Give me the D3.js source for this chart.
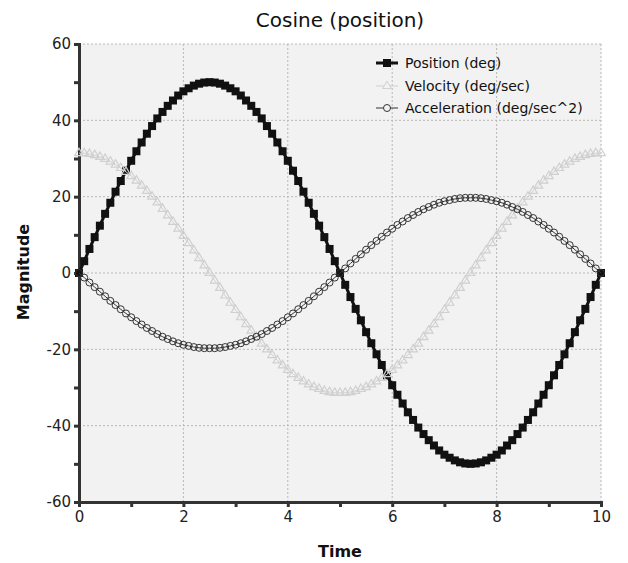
<!DOCTYPE html>
<html><head><meta charset="utf-8">
<script src="https://cdn.jsdelivr.net/npm/d3@7"></script>
<style>body{margin:0;background:#fff;} svg{display:block;font-family:"DejaVu Sans",sans-serif;}</style>
</head><body><svg id="c" width="628" height="563"></svg>
<script>
const time = d3.range(0, 101).map(i => +(i / 10).toFixed(1));
const position = [0,3.1,6.3,9.4,12.4,15.5,18.4,21.3,24.1,26.8,29.4,31.9,34.2,36.5,38.5,40.5,42.2,43.8,45.2,46.5,47.6,48.4,49.1,49.6,49.9,50,
49.9,49.6,49.1,48.4,47.6,46.5,45.2,43.8,42.2,40.5,38.5,36.5,34.2,31.9,29.4,26.8,24.1,21.3,18.4,15.5,12.4,9.4,6.3,3.1,0,
-3.1,-6.3,-9.4,-12.4,-15.5,-18.4,-21.3,-24.1,-26.8,-29.4,-31.9,-34.2,-36.5,-38.5,-40.5,-42.2,-43.8,-45.2,-46.5,-47.6,-48.4,-49.1,-49.6,-49.9,-50,
-49.9,-49.6,-49.1,-48.4,-47.6,-46.5,-45.2,-43.8,-42.2,-40.5,-38.5,-36.5,-34.2,-31.9,-29.4,-26.8,-24.1,-21.3,-18.4,-15.5,-12.4,-9.4,-6.3,-3.1,0];
const velocity = [31.4,31.4,31.2,30.9,30.4,29.9,29.2,28.4,27.5,26.5,25.4,24.2,22.9,21.5,20.0,18.5,16.8,15.1,13.4,11.6,9.7,7.8,5.9,3.9,2.0,0,
-2.0,-3.9,-5.9,-7.8,-9.7,-11.6,-13.4,-15.1,-16.8,-18.5,-20.0,-21.5,-22.9,-24.2,-25.4,-26.5,-27.5,-28.4,-29.2,-29.9,-30.4,-30.9,-31.2,-31.4,-31.4,
-31.4,-31.2,-30.9,-30.4,-29.9,-29.2,-28.4,-27.5,-26.5,-25.4,-24.2,-22.9,-21.5,-20.0,-18.5,-16.8,-15.1,-13.4,-11.6,-9.7,-7.8,-5.9,-3.9,-2.0,0,
2.0,3.9,5.9,7.8,9.7,11.6,13.4,15.1,16.8,18.5,20.0,21.5,22.9,24.2,25.4,26.5,27.5,28.4,29.2,29.9,30.4,30.9,31.2,31.4,31.4];
const acceleration = [0,-1.2,-2.5,-3.7,-4.9,-6.1,-7.3,-8.4,-9.5,-10.6,-11.6,-12.6,-13.5,-14.4,-15.2,-16.0,-16.7,-17.3,-17.9,-18.4,-18.8,-19.1,-19.4,-19.6,-19.7,-19.7,
-19.7,-19.6,-19.4,-19.1,-18.8,-18.4,-17.9,-17.3,-16.7,-16.0,-15.2,-14.4,-13.5,-12.6,-11.6,-10.6,-9.5,-8.4,-7.3,-6.1,-4.9,-3.7,-2.5,-1.2,0,
1.2,2.5,3.7,4.9,6.1,7.3,8.4,9.5,10.6,11.6,12.6,13.5,14.4,15.2,16.0,16.7,17.3,17.9,18.4,18.8,19.1,19.4,19.6,19.7,19.7,
19.7,19.6,19.4,19.1,18.8,18.4,17.9,17.3,16.7,16.0,15.2,14.4,13.5,12.6,11.6,10.6,9.5,8.4,7.3,6.1,4.9,3.7,2.5,1.2,0];
const seriesNames = ["Position (deg)", "Velocity (deg/sec)", "Acceleration (deg/sec^2)"];
const xTicks = [0,2,4,6,8,10];
const yTicks = [-60,-40,-20,0,20,40,60];
const xMinor = [1,3,5,7,9];
const yMinor = [-50,-30,-10,10,30,50];

const svg = d3.select("#c");
const L = 79, R = 601, T = 44, B = 502;
const x = d3.scaleLinear().domain([0,10]).range([L,R]);
const y = d3.scaleLinear().domain([-60,60]).range([B,T]);

svg.append("rect").attr("x",L).attr("y",T).attr("width",R-L).attr("height",B-T).attr("fill","#f2f2f2");
// grid
svg.append("g").selectAll("line").data(xTicks).join("line")
  .attr("x1",d=>x(d)).attr("x2",d=>x(d)).attr("y1",T).attr("y2",B)
  .attr("stroke","#b8b8b8").attr("stroke-dasharray","2,2");
svg.append("g").selectAll("line").data(yTicks).join("line")
  .attr("y1",d=>y(d)).attr("y2",d=>y(d)).attr("x1",L).attr("x2",R)
  .attr("stroke","#b8b8b8").attr("stroke-dasharray","2,2");

// axes
const fmt = d => String(d);
const xAxis = svg.append("g").attr("transform",`translate(0,${B})`)
  .call(d3.axisBottom(x).tickValues(xTicks).tickSize(5).tickPadding(4).tickFormat(fmt));
const xMin = svg.append("g").attr("transform",`translate(0,${B})`)
  .call(d3.axisBottom(x).tickValues(xMinor).tickSize(5).tickFormat(""));
const yAxis = svg.append("g").attr("transform",`translate(${L},0)`)
  .call(d3.axisLeft(y).tickValues(yTicks).tickSize(5).tickPadding(3).tickFormat(fmt));
const yMin = svg.append("g").attr("transform",`translate(${L},0)`)
  .call(d3.axisLeft(y).tickValues(yMinor).tickSize(5).tickFormat(""));
[xAxis,xMin,yAxis,yMin].forEach(g=>{
  g.select(".domain").attr("stroke","#333").attr("stroke-width",3);
  g.selectAll(".tick line").attr("stroke","#333").attr("stroke-width",3);
  g.selectAll(".tick text").attr("font-size",15).attr("fill","#222").attr("font-family","DejaVu Sans, sans-serif");
});
xMin.select(".domain").remove(); yMin.select(".domain").remove();

// lines
const lineGen = vals => d3.line().x((d,i)=>x(time[i])).y(d=>y(d))(vals);
// position
svg.append("path").attr("d",lineGen(position)).attr("fill","none").attr("stroke","#111").attr("stroke-width",3);
svg.append("g").selectAll("rect").data(position).join("rect")
  .attr("x",(d,i)=>x(time[i])-4).attr("y",d=>y(d)-4).attr("width",8).attr("height",8).attr("fill","#111");
// velocity
const vc = "#d0d0d0";
svg.append("path").attr("d",lineGen(velocity)).attr("fill","none").attr("stroke",vc).attr("stroke-width",1);
const tri = d3.symbol().type(d3.symbolTriangle).size(32);
svg.append("g").selectAll("path").data(velocity).join("path")
  .attr("transform",(d,i)=>`translate(${x(time[i])},${y(d)})`).attr("d",tri())
  .attr("fill","none").attr("stroke",vc).attr("stroke-width",1.2);
// acceleration
const ac = "#333";
svg.append("path").attr("d",lineGen(acceleration)).attr("fill","none").attr("stroke",ac).attr("stroke-width",1);
svg.append("g").selectAll("circle").data(acceleration).join("circle")
  .attr("cx",(d,i)=>x(time[i])).attr("cy",d=>y(d)).attr("r",3.5)
  .attr("fill","none").attr("stroke",ac).attr("stroke-width",1);

// legend
const lg = svg.append("g");
const ly = [63,86,108];
seriesNames.forEach((n,i)=>{
  const g = lg.append("g").attr("transform",`translate(376,${ly[i]})`);
  if(i===0){
    g.append("line").attr("x1",0).attr("x2",22).attr("stroke","#111").attr("stroke-width",3);
    g.append("rect").attr("x",7).attr("y",-4).attr("width",8).attr("height",8).attr("fill","#111");
  } else if(i===1){
    g.append("line").attr("x1",0).attr("x2",22).attr("stroke",vc).attr("stroke-width",1);
    g.append("path").attr("transform","translate(11,0)").attr("d",tri()).attr("fill","#f2f2f2").attr("stroke",vc);
  } else {
    g.append("line").attr("x1",0).attr("x2",22).attr("stroke",ac).attr("stroke-width",1);
    g.append("circle").attr("cx",11).attr("r",3.5).attr("fill","#f2f2f2").attr("stroke",ac);
  }
  g.append("text").attr("x",29).attr("dy","0.35em").attr("font-size",14).attr("fill","#111").text(n);
});

// titles
svg.append("text").attr("x",340).attr("y",27).attr("text-anchor","middle").attr("font-size",20).attr("fill","#111").text("Cosine (position)");
svg.append("text").attr("x",340).attr("y",557).attr("text-anchor","middle").attr("font-size",16).attr("font-weight","bold").attr("fill","#111").text("Time");
svg.append("text").attr("transform","translate(29,272) rotate(-90)").attr("text-anchor","middle").attr("font-size",16).attr("font-weight","bold").attr("fill","#111").text("Magnitude");
</script></body></html>
